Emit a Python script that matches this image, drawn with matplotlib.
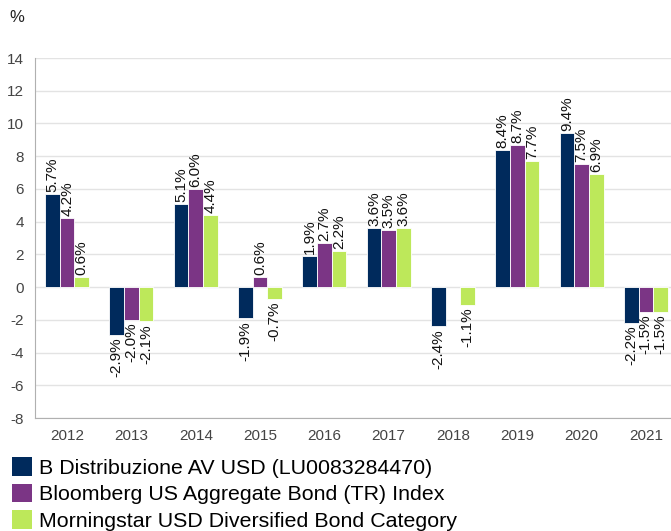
import numpy as np
import matplotlib
matplotlib.use("Agg")
import matplotlib.pyplot as plt
from matplotlib.patches import Patch

plt.rcParams['font.family'] = ['Liberation Sans', 'DejaVu Sans']
plt.rcParams['axes.unicode_minus'] = False

years = ["2012", "2013", "2014", "2015", "2016", "2017", "2018", "2019", "2020", "2021"]
fund = [5.7, -2.9, 5.1, -1.9, 1.9, 3.6, -2.4, 8.4, 9.4, -2.2]
index = [4.2, -2.0, 6.0, 0.6, 2.7, 3.5, np.nan, 8.7, 7.5, -1.5]
category = [0.6, -2.1, 4.4, -0.7, 2.2, 3.6, -1.1, 7.7, 6.9, -1.5]
series_names = ["B Distribuzione AV USD (LU0083284470)",
                "Bloomberg US Aggregate Bond (TR) Index",
                "Morningstar USD Diversified Bond Category"]
colors = ["#002a5c", "#7b3585", "#bde85a"]
yticks = [-8, -6, -4, -2, 0, 2, 4, 6, 8, 10, 12, 14]

fig = plt.figure(figsize=(6.71, 5.31), dpi=100)
ax = fig.add_axes([35/671, 1-418/531, (678-35)/671, (418-58)/531])

x = np.arange(len(years))
w = 0.228
for i, (vals, col) in enumerate(zip([fund, index, category], colors)):
    pos = x + (i - 1) * w
    v = np.array(vals, dtype=float)
    ax.bar(pos, v, width=w, color=col, edgecolor="white", linewidth=0.6, zorder=3)
    for p, val in zip(pos, v):
        if np.isnan(val):
            continue
        txt = f"{val:.1f}%"
        if val >= 0:
            ax.annotate(txt, (p, val), xytext=(0, 1.5), textcoords="offset points",
                        rotation=90, ha="center", va="bottom", fontsize=11, color="#111111")
        else:
            ax.annotate(txt, (p, val), xytext=(0, -2), textcoords="offset points",
                        rotation=90, ha="center", va="top", fontsize=11, color="#111111")

ax.set_xlim(-0.5, len(years) - 0.5)
ax.set_ylim(-8, 14)
ax.set_yticks(yticks)
ax.set_xticks(x)
ax.set_xticklabels(years)
ax.tick_params(axis="both", length=0, labelsize=11, colors="#444444")
ax.tick_params(axis="y", pad=8)
ax.tick_params(axis="x", pad=8)
ax.grid(axis="y", color="#e3e3e3", linewidth=1, zorder=0)
ax.set_axisbelow(True)
for s in ["top", "right"]:
    ax.spines[s].set_visible(False)
ax.spines["left"].set_color("#b0b0b0")
ax.spines["bottom"].set_color("#b0b0b0")

fig.text(9/671, 1-18/531, "%", fontsize=12, color="#222222", va="center", ha="left")

handles = [Patch(facecolor=c, edgecolor="none") for c in colors]
fig.legend(handles, series_names, loc="upper left", bbox_to_anchor=(8/671, 1-453/531),
           frameon=False, fontsize=15.4, handlelength=0.9, handleheight=0.95,
           handletextpad=0.35, labelspacing=0.28, borderpad=0.2, borderaxespad=0)

fig.savefig("out.png", dpi=100)
